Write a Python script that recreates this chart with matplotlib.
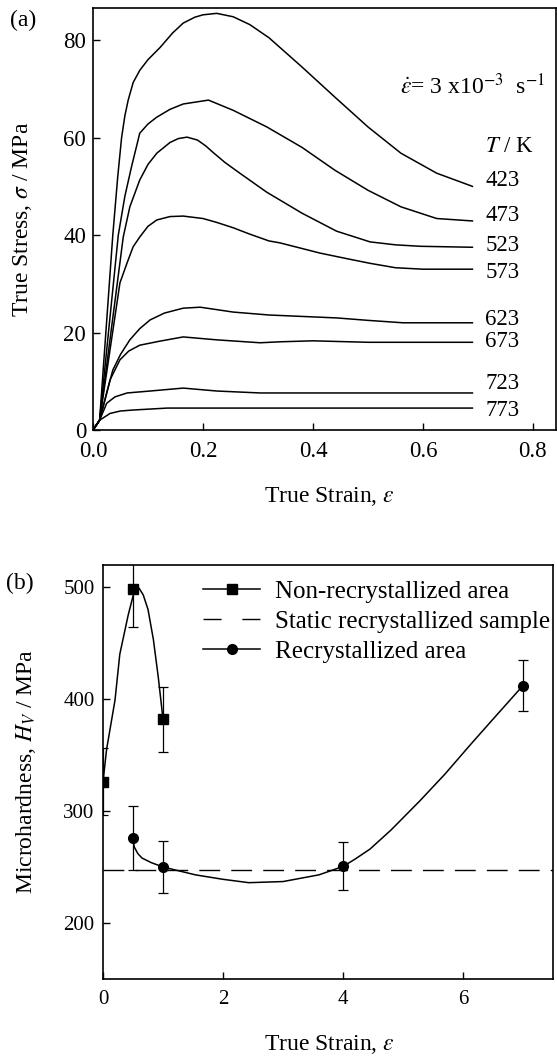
import matplotlib
matplotlib.use('Agg')
import matplotlib.pyplot as plt
from matplotlib.lines import Line2D

# ---------------- data: panel (a) stress-strain curves ----------------
temps = ['423', '473', '523', '573', '623', '673', '723', '773']

x_423 = [0, 0.012, 0.036, 0.045, 0.052, 0.058, 0.064, 0.073, 0.085, 0.10, 0.122, 0.145, 0.164,
         0.185, 0.20, 0.225, 0.255, 0.285, 0.32, 0.38, 0.44, 0.50, 0.56, 0.625, 0.69]
y_423 = [0, 2, 40, 52, 60, 64.5, 67.7, 71.3, 73.8, 76, 78.5, 81.5, 83.5,
         84.7, 85.2, 85.5, 84.8, 83.2, 80.5, 74.5, 68.3, 62.2, 56.8, 52.7, 50]

x_473 = [0, 0.012, 0.046, 0.058, 0.07, 0.085, 0.10, 0.116, 0.14, 0.164, 0.21, 0.255, 0.316,
         0.38, 0.44, 0.50, 0.56, 0.625, 0.69]
y_473 = [0, 2, 40, 48, 54, 60.9, 62.8, 64.2, 65.8, 66.9, 67.7, 65.6, 62.2,
         58, 53.3, 49.2, 45.8, 43.4, 42.9]

x_523 = [0, 0.012, 0.055, 0.067, 0.085, 0.10, 0.116, 0.14, 0.155, 0.171, 0.19, 0.205, 0.219,
         0.24, 0.267, 0.316, 0.38, 0.443, 0.504, 0.55, 0.595, 0.69]
y_523 = [0, 2, 39.6, 45.8, 51.3, 54.5, 56.8, 59, 59.8, 60.1, 59.5, 58.3, 56.9,
         54.9, 52.7, 48.8, 44.5, 40.8, 38.6, 38, 37.7, 37.5]

x_573 = [0, 0.012, 0.049, 0.062, 0.073, 0.085, 0.10, 0.116, 0.14, 0.164, 0.20, 0.225, 0.255,
         0.285, 0.32, 0.34, 0.413, 0.46, 0.504, 0.55, 0.60, 0.69]
y_573 = [0, 2, 30.2, 34.3, 37.6, 39.6, 41.8, 43.1, 43.8, 43.9, 43.4, 42.6, 41.5,
         40.2, 38.8, 38.4, 36.3, 35.2, 34.2, 33.3, 33, 33]

x_623 = [0, 0.012, 0.036, 0.05, 0.067, 0.085, 0.104, 0.13, 0.164, 0.195, 0.255, 0.32, 0.443,
         0.50, 0.564, 0.69]
y_623 = [0, 2, 12.3, 15.5, 18.5, 20.8, 22.6, 24, 25, 25.2, 24.2, 23.6, 23,
         22.5, 22, 22]

x_673 = [0, 0.012, 0.031, 0.049, 0.065, 0.085, 0.12, 0.164, 0.225, 0.304, 0.34, 0.40, 0.50, 0.69]
y_673 = [0, 2, 10.3, 14.4, 16.2, 17.4, 18.2, 19.1, 18.5, 17.9, 18.1, 18.3, 18.0, 18.0]

x_723 = [0, 0.012, 0.025, 0.04, 0.062, 0.104, 0.164, 0.225, 0.304, 0.40, 0.69]
y_723 = [0, 2, 5.5, 6.8, 7.6, 8.0, 8.6, 8.0, 7.6, 7.6, 7.6]

x_773 = [0, 0.012, 0.031, 0.05, 0.073, 0.135, 0.69]
y_773 = [0, 2, 3.4, 3.9, 4.1, 4.5, 4.5]

label_y = [51.3, 44.1, 37.9, 32.4, 22.6, 18.1, 9.6, 4.1]

# ---------------- data: panel (b) microhardness ----------------
nonrx_x = [0, 0.5, 1]
nonrx_y = [326, 498, 382]
nonrx_err = [30, 34, 29]

rx_x = [0.5, 1, 4, 7]
rx_y = [276, 250, 251, 412]
rx_err = [28.5, 23, 21.5, 22.5]

static_hv = 247

nonrx_fit_x = [0, 0.06, 0.2, 0.28, 0.42, 0.52, 0.6, 0.67, 0.75, 0.84, 0.92, 1.0]
nonrx_fit_y = [326, 355, 399, 440, 475, 496, 499, 493, 480, 453, 420, 382]

rx_fit_x = [0.5, 0.52, 0.58, 0.65, 0.8, 1.0, 1.54, 2.0, 2.43, 3.0, 3.6, 4.0, 4.2, 4.45, 4.8,
            5.28, 5.7, 6.12, 6.55, 7.0]
rx_fit_y = [276, 268, 262, 258, 254, 250, 243, 239, 236, 237, 243, 250.5, 257, 266, 283,
            309, 333, 359, 385, 412]

# ---------------- style ----------------
plt.rcParams['font.family'] = ['Liberation Serif', 'DejaVu Serif']
plt.rcParams['mathtext.fontset'] = 'stix'

fig = plt.figure(figsize=(5.57, 10.62), dpi=100)

# ---------------- panel (a) ----------------
axa = fig.add_axes([93 / 557, 1 - 430 / 1062, 463 / 557, 422 / 1062])
curves = [(x_423, y_423), (x_473, y_473), (x_523, y_523), (x_573, y_573),
          (x_623, y_623), (x_673, y_673), (x_723, y_723), (x_773, y_773)]
for cx, cy in curves:
    axa.plot(cx, cy, color='black', lw=1.1, solid_joinstyle='round')
axa.set_xlim(0, 0.842)
axa.set_ylim(0, 86.6)
axa.set_xticks([0.0, 0.2, 0.4, 0.6, 0.8])
axa.set_xticklabels(['0.0', '0.2', '0.4', '0.6', '0.8'])
axa.set_yticks([0, 20, 40, 60, 80])
axa.tick_params(direction='in', length=5, width=1, labelsize=16.5)
axa.tick_params(axis='x', pad=8)
axa.tick_params(axis='y', pad=5)
for s in axa.spines.values():
    s.set_linewidth(1.2)
axa.set_xlabel(r'True Strain, $\varepsilon$', fontsize=17)
axa.xaxis.set_label_coords(0.51, -0.13)
axa.set_ylabel(r'True Stress, $\sigma$ / MPa', fontsize=17)
axa.yaxis.set_label_coords(-0.128, 0.5)

for t, ly in zip(temps, label_y):
    axa.text(0.713, ly, t, fontsize=16.5, ha='left', va='center')
axa.text(0.713, 58.1, r'$T$ / K', fontsize=16.5, ha='left', va='center')
axa.text(0.558, 70.6, r'$\dot{\varepsilon}$= 3 x10$^{-3}$  s$^{-1}$', fontsize=17,
         ha='left', va='center')
fig.text(23 / 557, 1 - 20 / 1062, '(a)', fontsize=17, ha='center', va='center')

# ---------------- panel (b) ----------------
axb = fig.add_axes([103 / 557, 1 - 979 / 1062, 450 / 557, 414.4 / 1062])
axb.plot(nonrx_fit_x, nonrx_fit_y, color='black', lw=1.1)
axb.plot(rx_fit_x, rx_fit_y, color='black', lw=1.1)
axb.axhline(static_hv, color='black', lw=1.0, dashes=(15, 8))
axb.errorbar(nonrx_x, nonrx_y, yerr=nonrx_err, fmt='s', color='black', ms=7,
             ecolor='black', elinewidth=0.9, capsize=3.5, capthick=0.9)
axb.errorbar(rx_x, rx_y, yerr=rx_err, fmt='o', color='black', ms=7,
             ecolor='black', elinewidth=0.9, capsize=3.5, capthick=0.9)
axb.set_xlim(0, 7.5)
axb.set_ylim(150, 520)
axb.set_xticks([0, 2, 4, 6])
axb.set_yticks([200, 300, 400, 500])
axb.tick_params(direction='in', length=5, width=1, labelsize=15)
axb.tick_params(axis='x', pad=8)
axb.tick_params(axis='y', pad=6)
for s in axb.spines.values():
    s.set_linewidth(1.2)
axb.set_xlabel(r'True Strain, $\varepsilon$', fontsize=17)
axb.xaxis.set_label_coords(0.504, -0.13)
axb.set_ylabel(r'Microhardness, $H_V$ / MPa', fontsize=17)
axb.yaxis.set_label_coords(-0.145, 0.5)
fig.text(20 / 557, 1 - 583 / 1062, '(b)', fontsize=17, ha='center', va='center')

handles = [
    Line2D([], [], color='black', lw=1.1, marker='s', ms=7),
    Line2D([], [], color='black', lw=1.0, dashes=(13, 15)),
    Line2D([], [], color='black', lw=1.1, marker='o', ms=7),
]
labels = ['Non-recrystallized area', 'Static recrystallized sample', 'Recrystallized area']
axb.legend(handles, labels, loc='upper left', bbox_to_anchor=(0.222, 0.962),
           frameon=False, fontsize=18, handlelength=2.3, handletextpad=0.6,
           labelspacing=0.3, borderpad=0, borderaxespad=0)

fig.savefig('out.png', dpi=100)
